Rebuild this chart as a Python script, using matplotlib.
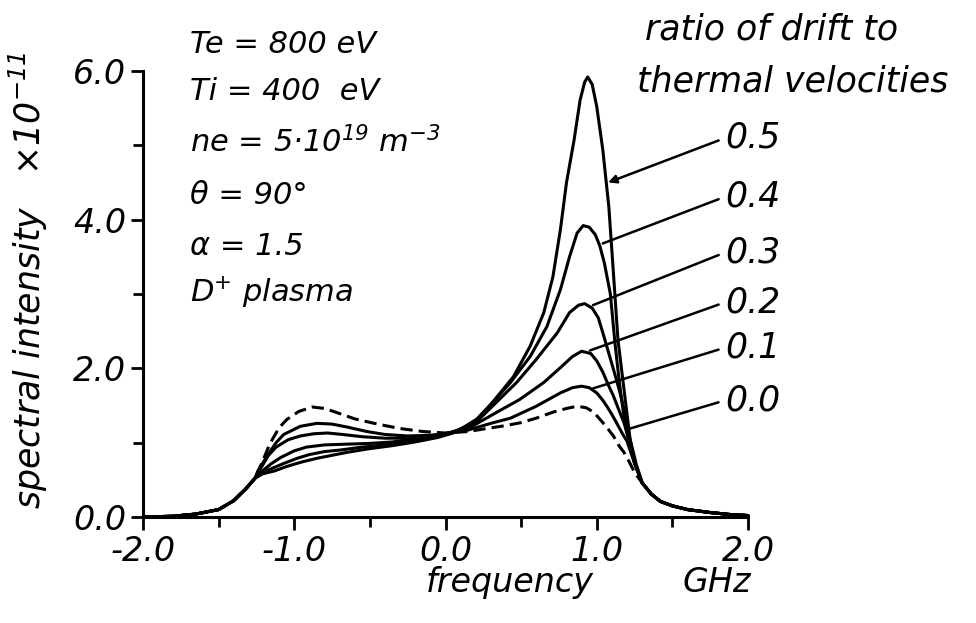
import matplotlib
matplotlib.use("Agg")
import matplotlib.pyplot as plt
import numpy as np

# frequency grid points (GHz) and intensities (x1e-11)
tail_left_x = [-2.0, -1.8, -1.65, -1.5, -1.4, -1.32, -1.26]
tail_left_y = [0.0, 0.01, 0.04, 0.10, 0.22, 0.38, 0.52]

tail_right_x = [1.3, 1.36, 1.42, 1.5, 1.6, 1.75, 1.9, 2.0]
tail_right_y = [0.46, 0.31, 0.21, 0.15, 0.10, 0.06, 0.03, 0.02]

# ratio of drift to thermal velocities
ratios = ["0.0", "0.1", "0.2", "0.3", "0.4", "0.5"]

x_00 = [-1.22, -1.16, -1.1, -1.05, -0.97, -0.88, -0.8, -0.74, -0.6, -0.45, -0.3, -0.15,
        0.0, 0.15, 0.27, 0.4, 0.5, 0.6, 0.71, 0.8, 0.87, 0.93, 0.98, 1.04, 1.08, 1.11,
        1.15, 1.18, 1.21, 1.25]
y_00 = [0.70, 0.99, 1.20, 1.31, 1.42, 1.48, 1.46, 1.42, 1.32, 1.25, 1.19, 1.15,
        1.13, 1.15, 1.19, 1.23, 1.27, 1.33, 1.41, 1.46, 1.49, 1.47, 1.41, 1.27, 1.17, 1.09,
        0.95, 0.87, 0.76, 0.60]

x_01 = [-1.24, -1.18, -1.12, -1.07, -0.96, -0.85, -0.75, -0.65, -0.52, -0.4, -0.25, -0.1,
        0.0, 0.15, 0.3, 0.43, 0.6, 0.76, 0.84, 0.9, 0.95, 1.0, 1.04, 1.07, 1.1, 1.13,
        1.17, 1.2, 1.25]
y_01 = [0.62, 0.82, 1.00, 1.11, 1.22, 1.26, 1.25, 1.21, 1.15, 1.11, 1.09, 1.10,
        1.12, 1.17, 1.26, 1.33, 1.49, 1.67, 1.74, 1.76, 1.74, 1.67, 1.57, 1.48, 1.38, 1.27,
        1.12, 1.02, 0.72]

x_02 = [-1.22, -1.17, -1.12, -1.04, -0.96, -0.87, -0.78, -0.68, -0.55, -0.4, -0.25, -0.1,
        0.0, 0.15, 0.34, 0.49, 0.65, 0.76, 0.84, 0.9, 0.96, 1.0, 1.04, 1.08, 1.11, 1.15,
        1.18, 1.21, 1.25]
y_02 = [0.66, 0.83, 0.94, 1.04, 1.09, 1.12, 1.13, 1.11, 1.08, 1.06, 1.06, 1.09,
        1.12, 1.19, 1.41, 1.58, 1.81, 2.01, 2.16, 2.23, 2.20, 2.10, 1.95, 1.76, 1.63, 1.42,
        1.27, 1.05, 0.72]

x_03 = [-1.21, -1.15, -1.09, -1.0, -0.92, -0.8, -0.65, -0.5, -0.35, -0.2, -0.05, 0.1,
        0.2, 0.31, 0.47, 0.6, 0.74, 0.82, 0.88, 0.92, 0.97, 1.01, 1.04, 1.08, 1.11, 1.15,
        1.18, 1.21, 1.25]
y_03 = [0.62, 0.72, 0.80, 0.89, 0.94, 0.97, 0.98, 0.99, 1.01, 1.05, 1.10, 1.17,
        1.27, 1.49, 1.81, 2.12, 2.48, 2.75, 2.85, 2.87, 2.81, 2.68, 2.48, 2.20, 1.99, 1.70,
        1.45, 1.15, 0.74]

x_04 = [-1.21, -1.14, -1.07, -0.98, -0.9, -0.8, -0.7, -0.55, -0.4, -0.25, -0.1, 0.0,
        0.12, 0.2, 0.29, 0.43, 0.56, 0.67, 0.76, 0.82, 0.87, 0.91, 0.95, 0.99, 1.02, 1.05,
        1.09, 1.12, 1.15, 1.18, 1.21, 1.25]
y_04 = [0.60, 0.66, 0.72, 0.79, 0.84, 0.88, 0.90, 0.94, 0.97, 1.02, 1.07, 1.11,
        1.20, 1.30, 1.49, 1.81, 2.16, 2.56, 3.06, 3.50, 3.82, 3.92, 3.90, 3.80, 3.65, 3.42,
        3.00, 2.35, 1.80, 1.35, 1.05, 0.74]

x_05 = [-1.21, -1.13, -1.05, -0.95, -0.85, -0.75, -0.65, -0.5, -0.35, -0.2, -0.05, 0.05,
        0.13, 0.21, 0.31, 0.45, 0.56, 0.65, 0.71, 0.76, 0.8, 0.85, 0.89, 0.92, 0.94, 0.97,
        1.0, 1.04, 1.08, 1.11, 1.14, 1.18, 1.22, 1.26]
y_05 = [0.58, 0.62, 0.68, 0.74, 0.79, 0.83, 0.87, 0.92, 0.96, 1.01, 1.07, 1.13,
        1.22, 1.32, 1.54, 1.89, 2.30, 2.75, 3.23, 3.87, 4.50, 5.07, 5.61, 5.85, 5.92, 5.82,
        5.52, 4.94, 4.17, 3.29, 2.39, 1.72, 1.05, 0.72]

curves_x = [x_00, x_01, x_02, x_03, x_04, x_05]
curves_y = [y_00, y_01, y_02, y_03, y_04, y_05]

# where the label leader lines touch the curves, and label heights
label_xy = [(1.22, 1.19), (0.975, 1.73), (0.955, 2.24), (0.975, 2.85), (1.04, 3.68), (1.075, 4.50)]
label_y = [1.57, 2.28, 2.89, 3.56, 4.31, 5.10]

plt.rcParams['font.family'] = ['DejaVu Sans']
plt.rcParams['font.style'] = 'italic'
plt.rcParams['mathtext.fontset'] = 'dejavusans'
plt.rcParams['mathtext.default'] = 'it'

W, H = 976, 623
fig = plt.figure(figsize=(W / 100, H / 100), dpi=100)
ax = fig.add_axes([143 / W, 1 - 517 / H, 605 / W, 446 / H])

fs = 25      # ratio labels, captions
fs_tick = 24
fs_par = 22  # parameter block
lw = 2.2

for i, r in enumerate(ratios):
    xs = tail_left_x + curves_x[i] + tail_right_x
    ys = tail_left_y + curves_y[i] + tail_right_y
    line, = ax.plot(xs, ys, color='black', lw=lw, clip_on=False, solid_capstyle='round')
    if r == "0.0":
        line.set_dashes([4, 2])
    style = '-|>' if r == "0.5" else '-'
    ax.annotate(r, xy=label_xy[i], xytext=(1.85, label_y[i]), fontsize=fs,
                ha='left', va='center',
                arrowprops=dict(arrowstyle=style, color='black', lw=1.8,
                                shrinkA=3, shrinkB=0, relpos=(0, 0.5),
                                mutation_scale=12))

ax.set_xlim(-2, 2)
ax.set_ylim(0, 6)
ax.spines['top'].set_visible(False)
ax.spines['right'].set_visible(False)
for s in ['left', 'bottom']:
    ax.spines[s].set_linewidth(2.2)
ax.set_xticks([-2, -1, 0, 1, 2])
ax.set_xticklabels(['-2.0', '-1.0', '0.0', '1.0', '2.0'])
ax.set_xticks([-1.5, -0.5, 0.5, 1.5], minor=True)
ax.set_yticks([0, 2, 4, 6])
ax.set_yticklabels(['0.0', '2.0', '4.0', '6.0'])
ax.set_yticks([1, 3, 5], minor=True)
ax.tick_params(which='both', direction='out', width=2, labelsize=fs_tick)
ax.tick_params(which='major', length=9)
ax.tick_params(which='minor', length=7)
ax.tick_params(axis='x', pad=4)
ax.tick_params(axis='y', pad=3)

# parameter block
params = ["Te = 800 eV", "Ti = 400  eV", "ne = 5\u00b710$^{19}$ m$^{-3}$",
          "\u03b8 = 90\u00b0", "\u03b1 = 1.5", "D$^{+}$ plasma"]
baselines = [53, 100, 152, 204, 255, 302]
for t, b in zip(params, baselines):
    fig.text(190 / W, 1 - b / H, t, fontsize=fs_par, ha='left', va='baseline')

fig.text(645 / W, 1 - 30 / H, "ratio of drift to", fontsize=fs, ha='left', va='center')
fig.text(637 / W, 1 - 82 / H, "thermal velocities", fontsize=fs, ha='left', va='center')

fig.text(28 / W, 1 - 280 / H, "spectral intensity   \u00d710$^{-11}$", fontsize=fs,
         rotation=90, ha='center', va='center')
fig.text(510 / W, 1 - 592 / H, "frequency", fontsize=24, ha='center', va='baseline')
fig.text(717 / W, 1 - 592 / H, "GHz", fontsize=24, ha='center', va='baseline')

fig.savefig("out.png", dpi=100)
